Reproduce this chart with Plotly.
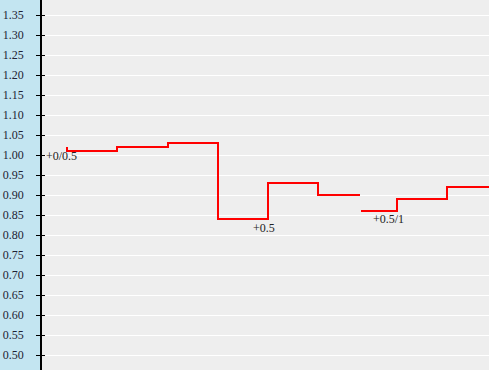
import plotly.graph_objects as go

# step series (x in match minutes, y = odds level)
seg1_x = [5, 5, 15, 25.2, 35.2, 45.2, 55.2, 63.6]
seg1_y = [1.02, 1.01, 1.02, 1.03, 0.84, 0.93, 0.90, 0.90]
seg2_x = [63.8, 71, 81, 95]
seg2_y = [0.86, 0.89, 0.92, 0.92]

labels = ["+0/0.5", "+0.5", "+0.5/1"]
label_x = [5, 45.2, 71]
label_y = [1.01, 0.84, 0.86]

tick_vals = [round(0.45 + 0.05 * i, 2) for i in range(19)]

x_all = seg1_x + [None] + seg2_x
y_all = seg1_y + [None] + seg2_y

fig = go.Figure()
fig.add_trace(go.Scatter(x=x_all, y=y_all, mode="lines", line=dict(color="#ff0000", width=2, shape="hv"),
                         connectgaps=False, hoverinfo="skip", showlegend=False))
# invisible trace to activate yaxis2
fig.add_trace(go.Scatter(x=[None], y=[None], yaxis="y2", showlegend=False, hoverinfo="skip"))

shifts = [(-6, -4.5), (-4.5, -8.5), (-8.5, -8)]
for t, xv, yv, (dx, dy) in zip(labels, label_x, label_y, shifts):
    fig.add_annotation(x=xv, y=yv, text=t, showarrow=False, xshift=dx, yshift=dy,
                       font=dict(family="Liberation Serif", size=12, color="#222222"),
                       xanchor="center", yanchor="middle")

yr = [0.4625, 1.3875]
fig.update_layout(
    width=489, height=370,
    margin=dict(l=42, r=0, t=0, b=0),
    paper_bgcolor="#c3e5f1",
    plot_bgcolor="#eeeeee",
    xaxis=dict(range=[0, 89.4], showgrid=False, zeroline=False, showticklabels=False, ticks="", showline=False),
    yaxis=dict(range=yr, tickvals=tick_vals, tickformat=".2f", ticks="outside", ticklen=4, tickwidth=1,
               tickcolor="#000000", showline=True, linecolor="#000000", linewidth=1.5,
               showgrid=True, gridcolor="#ffffff", gridwidth=1, zeroline=False,
               ticklabelstandoff=10,
               tickfont=dict(family="Liberation Serif", size=12, color="#222233")),
    yaxis2=dict(range=yr, tickvals=tick_vals, overlaying="y", side="left", ticks="inside", ticklen=3,
                tickwidth=1, tickcolor="#000000", showticklabels=False, showgrid=False, zeroline=False,
                showline=False),
)

fig.write_html("out.html")
